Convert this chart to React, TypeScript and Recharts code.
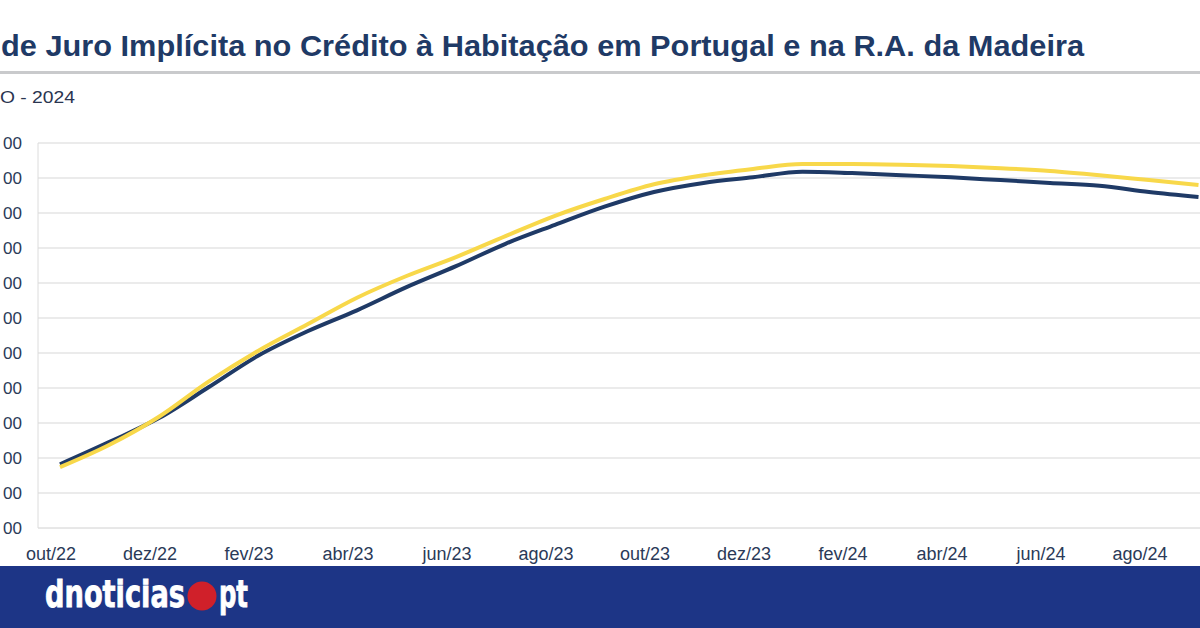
import { LineChart, Line, XAxis, YAxis, CartesianGrid } from "recharts";

// months shown on the category axis (oct/22 .. sep/24)
const months = [
  "out/22", "nov/22", "dez/22", "jan/23", "fev/23", "mar/23", "abr/23", "mai/23",
  "jun/23", "jul/23", "ago/23", "set/23", "out/23", "nov/23", "dez/23", "jan/24",
  "fev/24", "mar/24", "abr/24", "mai/24", "jun/24", "jul/24", "ago/24", "set/24",
];

// Portugal (dark line)
const portugal = [
  0.91, 1.23, 1.57, 2.01, 2.46, 2.81, 3.11, 3.44, 3.74, 4.06, 4.33, 4.59,
  4.8, 4.93, 5.01, 5.09, 5.07, 5.04, 5.01, 4.97, 4.93, 4.89, 4.8, 4.73,
];

// R.A. da Madeira (yellow line)
const madeira = [
  0.87, 1.19, 1.59, 2.09, 2.53, 2.91, 3.29, 3.6, 3.87, 4.17, 4.46, 4.7,
  4.91, 5.04, 5.13, 5.2, 5.2, 5.19, 5.17, 5.14, 5.1, 5.04, 4.97, 4.9,
];

const yTicks = [0, 0.5, 1, 1.5, 2, 2.5, 3, 3.5, 4, 4.5, 5, 5.5];

const data = months.map((m, i) => ({ month: m, portugal: portugal[i], madeira: madeira[i] }));

const NAVY = "#1f3a66";
const YELLOW = "#f8d84a";
const LABEL = "#2b3a58";
const LOGO_FONT = "'DejaVu Sans Condensed', 'DejaVu Sans', sans-serif";

const XTick = (props: any) => {
  const { x, y, payload } = props;
  return (
    <text x={x - 9} y={y + 24} textAnchor="middle" fill={LABEL} fontSize={18} fontFamily="'Liberation Sans', Arial, sans-serif">
      {payload.value}
    </text>
  );
};

// the picture is cropped on the left: only the last digits of the labels show
const YTick = (props: any) => {
  const { y } = props;
  return (
    <text x={22} y={y + 6} textAnchor="end" fill={LABEL} fontSize={17} fontFamily="'Liberation Sans', Arial, sans-serif">
      00
    </text>
  );
};

export default function App() {
  return (
    <div style={{ position: "absolute", left: 0, top: 0, width: 1200, height: 628, background: "#fff", overflow: "hidden" }}>
      <svg width={1200} height={125} style={{ position: "absolute", left: 0, top: 0 }}>
        <text x={1} y={56} fill="#1f3a66" fontSize={30} fontWeight={700} fontFamily="'Liberation Sans', Arial, sans-serif" textLength={1083} lengthAdjust="spacingAndGlyphs">
          de Juro Implícita no Crédito à Habitação em Portugal e na R.A. da Madeira
        </text>
        <rect x={0} y={71} width={1200} height={3} fill="#c9cacc" />
        <text x={0} y={103} fill="#2a3550" fontSize={17} fontFamily="'Liberation Sans', Arial, sans-serif" textLength={75} lengthAdjust="spacingAndGlyphs">
          O - 2024
        </text>
      </svg>

      <div style={{ position: "absolute", left: 0, top: 130 }}>
        <LineChart width={1200} height={440} data={data} margin={{ top: 13, right: 0, bottom: 12, left: 0 }}>
          <CartesianGrid vertical={false} stroke="#e4e4e4" strokeWidth={1.5} />
          <XAxis
            dataKey="month"
            interval={1}
            padding={{ left: 22, right: 1.5 }}
            height={30}
            axisLine={{ stroke: "#e4e4e4" }}
            tickLine={false}
            tick={<XTick />}
          />
          <YAxis
            width={38}
            domain={[0, 5.5]}
            ticks={yTicks}
            axisLine={{ stroke: "#dcdcdc" }}
            tickLine={false}
            tick={<YTick />}
          />
          <Line type="monotone" dataKey="portugal" stroke={NAVY} strokeWidth={4} dot={false} isAnimationActive={false} />
          <Line type="monotone" dataKey="madeira" stroke={YELLOW} strokeWidth={4} dot={false} isAnimationActive={false} />
        </LineChart>
      </div>

      <div style={{ position: "absolute", left: 0, top: 566, width: 1200, height: 62, background: "#1d3586" }}>
        <svg width={300} height={62}>
          <circle cx={202} cy={30} r={14.5} fill="#d0202a" />
          <g transform="translate(0,41) scale(1,1.3)">
            <text x={45} y={0} fill="#fff" stroke="#fff" strokeWidth={0.6} fontSize={29} fontWeight={700} fontFamily={LOGO_FONT} textLength={140} lengthAdjust="spacingAndGlyphs">
              dnoticias
            </text>
            <text x={219} y={0} fill="#fff" stroke="#fff" strokeWidth={0.6} fontSize={29} fontWeight={700} fontFamily={LOGO_FONT} textLength={29} lengthAdjust="spacingAndGlyphs">
              pt
            </text>
          </g>
        </svg>
      </div>
    </div>
  );
}
